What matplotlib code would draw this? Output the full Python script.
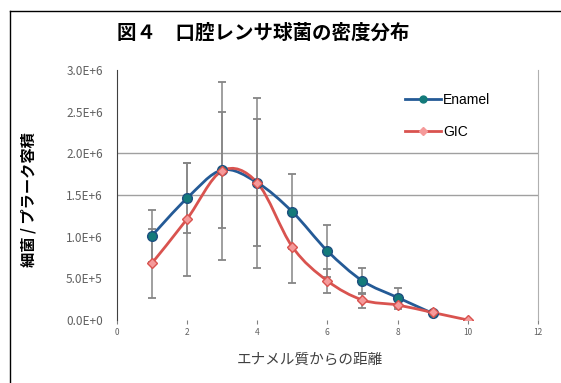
import numpy as np
import matplotlib.pyplot as plt
from matplotlib.path import Path
from matplotlib.patches import PathPatch
from matplotlib.lines import Line2D

plt.rcParams['font.family'] = ['Noto Sans CJK JP', 'DejaVu Sans']

# data
dist_enamel = [1, 2, 3, 4, 5, 6, 7, 8, 9]
enamel = [1.01e6, 1.46e6, 1.80e6, 1.65e6, 1.30e6, 0.83e6, 0.47e6, 0.27e6, 0.08e6]
enamel_sd = [0.31e6, 0.42e6, 0.70e6, 0.76e6, 0.45e6, 0.31e6, 0.16e6, 0.11e6, 0.03e6]

dist_gic = [1, 2, 3, 4, 5, 6, 7, 8, 9, 10]
gic = [0.68e6, 1.21e6, 1.79e6, 1.65e6, 0.88e6, 0.47e6, 0.24e6, 0.18e6, 0.09e6, 0.0]
gic_sd = [0.41e6, 0.68e6, 1.07e6, 1.02e6, 0.43e6, 0.14e6, 0.09e6, 0.05e6, 0.02e6, 0.0]

yticks = [0, 0.5e6, 1.0e6, 1.5e6, 2.0e6, 2.5e6, 3.0e6]
ytick_labels = ['0.0E+0', '5.0E+5', '1.0E+6', '1.5E+6', '2.0E+6', '2.5E+6', '3.0E+6']
xticks = [0, 2, 4, 6, 8, 10, 12]


def smooth_path(xs, ys):
    # excel-like smoothed line: cubic bezier segments through the points
    pts = np.column_stack([xs, ys]).astype(float)
    verts = [pts[0]]
    codes = [Path.MOVETO]
    n = len(pts)
    for i in range(n - 1):
        p0 = pts[i - 1] if i > 0 else pts[i]
        p1 = pts[i]
        p2 = pts[i + 1]
        p3 = pts[i + 2] if i + 2 < n else pts[i + 1]
        c1 = p1 + (p2 - p0) / 6
        c2 = p2 - (p3 - p1) / 6
        verts += [c1, c2, p2]
        codes += [Path.CURVE4] * 3
    return Path(verts, codes)


fig = plt.figure(figsize=(5.61, 3.83), dpi=100)
ax = fig.add_axes([0.208, 0.1645, 0.751, 0.6525])

for y in [1.5e6, 2.0e6]:
    ax.axhline(y, color='#a0a0a0', lw=1, zorder=0)

ax.errorbar(dist_gic, gic, yerr=gic_sd, fmt='none', ecolor='#858585',
            elinewidth=1.1, capsize=3, capthick=1.3, zorder=1)
ax.errorbar(dist_enamel, enamel, yerr=enamel_sd, fmt='none', ecolor='#858585',
            elinewidth=1.1, capsize=3, capthick=1.3, zorder=1)

ax.add_patch(PathPatch(smooth_path(dist_enamel, enamel), fill=False,
                       edgecolor='#245a96', lw=2, zorder=2))
ax.add_patch(PathPatch(smooth_path(dist_gic, gic), fill=False,
                       edgecolor='#d9534f', lw=2, zorder=2))
ax.plot(dist_enamel, enamel, ls='none', marker='o', ms=7,
        mfc='#137a7a', mec='#1d4f80', zorder=3)
ax.plot(dist_gic, gic, ls='none', marker='D', ms=5.5,
        mfc='#f59a9a', mec='#d9534f', zorder=3)

ax.set_xlim(0, 12)
ax.set_ylim(0, 3.0e6)
ax.set_xticks(xticks)
ax.set_xticklabels([str(t) for t in xticks], fontsize=6, color='#606060')
ax.set_yticks(yticks)
ax.set_yticklabels(ytick_labels, fontsize=8.5, color='#606060')
ax.tick_params(axis='y', length=0, pad=10)
ax.tick_params(axis='x', length=3, color='#808080', pad=3)

for s in ['top', 'bottom']:
    ax.spines[s].set_visible(False)
ax.spines['left'].set_color('#404040')
ax.spines['right'].set_color('#b0b0b0')

handles = [
    Line2D([], [], color='#245a96', lw=2, marker='o', ms=5,
           mfc='#137a7a', mec='#137a7a'),
    Line2D([], [], color='#d9534f', lw=2, marker='D', ms=4,
           mfc='#f59a9a', mec='#f59a9a'),
]
ax.legend(handles, ['Enamel', 'GIC'], loc='upper left',
          bbox_to_anchor=(0.655, 0.96), frameon=False,
          prop={'family': 'Liberation Sans', 'size': 10},
          handlelength=2.6, labelspacing=1.3, handletextpad=0.15)

ax.set_ylabel('細菌 / プラーク容積', fontsize=11, fontweight='bold')
ax.yaxis.set_label_coords(-0.19, 0.48)
ax.set_xlabel('エナメル質からの距離', fontsize=10.5, color='#404040')
ax.xaxis.set_label_coords(0.459, -0.13)

fig.text(0.469, 0.913, '図４　口腔レンサ球菌の密度分布', ha='center', va='center',
         fontsize=14, fontweight='bold')

# outer frame of the pasted chart (top and left edges)
fig.add_artist(Line2D([10 / 561, 10 / 561], [0, 1 - 11 / 383],
                      color='black', lw=1, transform=fig.transFigure))
fig.add_artist(Line2D([10 / 561, 1], [1 - 11 / 383, 1 - 11 / 383],
                      color='black', lw=1, transform=fig.transFigure))

fig.savefig('out.png', dpi=100)
